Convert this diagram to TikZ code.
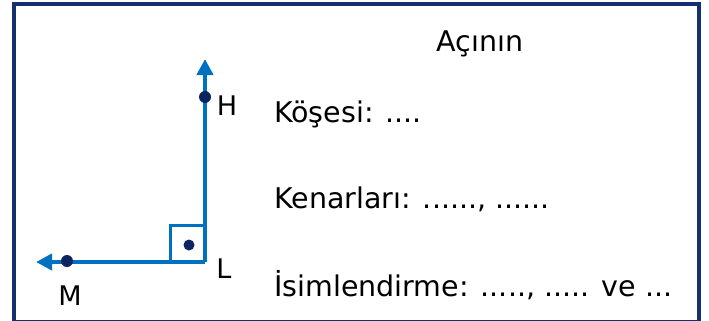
\documentclass[tikz,border=0pt]{standalone}
\usepackage{fontspec}
\setmainfont{DejaVu Sans}
\usetikzlibrary{arrows.meta}
\definecolor{rayblue}{HTML}{0070C0}
\definecolor{navy}{HTML}{0C2461}
\definecolor{frame}{HTML}{14306E}
\tikzset{>={Triangle[width=16pt,length=16pt]}}
\tikzset{
  ray/.style={draw=rayblue, line width=4pt},
  pt/.style={circle, fill=navy, inner sep=0pt, minimum size=12pt},
  lbl/.style={font=\fontsize{27}{32}\selectfont, inner sep=0pt, anchor=base},
  txt/.style={font=\fontsize{28.5}{34}\selectfont, inner sep=0pt, anchor=base west}
}
\begin{document}
\begin{tikzpicture}[x=1pt,y=-1pt]
  \useasboundingbox (0,0) rectangle (709,321);
  \fill[white] (0,0) rectangle (709,321);

  %% frame
  \draw[frame, line width=4pt] (14,4) rectangle (699,322);

  %% angle
  \coordinate (L) at (205,262);
  \coordinate (Htip) at (205,59);
  \coordinate (Mtip) at (36,262);
  \draw[ray,->] (L) -- (Htip);
  \draw[ray,->] (L) -- (Mtip);
  \draw[rayblue, line width=3pt] (170,262) -- (170,225) -- (205,225);
  \node[pt, minimum size=11pt] (r) at (189,245) {};

  \node[pt] (h) at (205,97) {};
  \node[pt] (m) at (67,261) {};

  \node[lbl] (hl) at (227,115) {H};
  \node[lbl] (ll) at (224,278) {L};
  \node[lbl] (ml) at (70,305) {M};

  %% texts
  \node[txt, anchor=base] (t0) at (480,52) {Açının};
  \node[txt] (t1) at (274,122) {Köşesi: ....};
  \node[txt] (t2) at (274,208) {Kenarları: ......, ......};
  \node[txt] (t3) at (274,296) {İsimlendirme: ....., ..... ve ...};

\end{tikzpicture}
\end{document}
